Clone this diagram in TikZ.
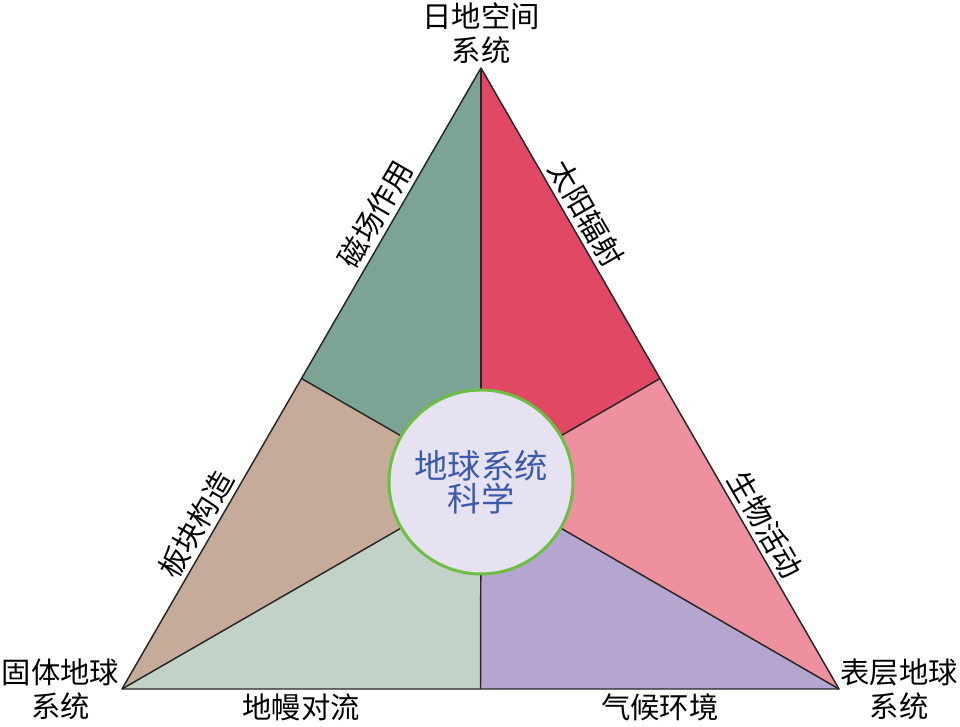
\documentclass[tikz,border=0pt]{standalone}
\usepackage{fontspec}
\setmainfont{Noto Sans CJK SC}
\usetikzlibrary{positioning, calc}

\definecolor{fieldgreen}{HTML}{7BA396}
\definecolor{sunred}{HTML}{E04863}
\definecolor{platetan}{HTML}{C6AB99}
\definecolor{mantlegray}{HTML}{C2D2C9}
\definecolor{climatepurple}{HTML}{B5A6D0}
\definecolor{lifepink}{HTML}{EE909E}
\definecolor{hubfill}{HTML}{E6E2F2}
\definecolor{hubring}{HTML}{6DBE45}
\definecolor{hubtext}{HTML}{3A5BAA}

\begin{document}
\begin{tikzpicture}[
    x=0.75pt, y=0.75pt,
    edge/.style={line width=1.1pt, black!85, line join=round},
    sidelabel/.style={font=\fontsize{22}{25.5}\selectfont, inner sep=3.5pt},
    cornerlabel/.style={font=\fontsize{22}{25.5}\selectfont, align=center, inner sep=0pt},
    hub/.style={circle, draw=hubring, line width=2.25pt, fill=hubfill, minimum size=138pt,
        align=center, text=hubtext, font=\fontsize{25}{25}\selectfont}
]
    \useasboundingbox (0, 0) rectangle (960, 727);

    % Corners, edge midpoints and centre
    \coordinate (top) at (481, 659);
    \coordinate (left) at (122, 38);
    \coordinate (right) at (839, 38);
    \coordinate (mid) at (481, 245);
    \coordinate (lmid) at ($(top)!0.5!(left)$);
    \coordinate (rmid) at ($(top)!0.5!(right)$);
    \coordinate (bmid) at ($(left)!0.5!(right)$);

    % Sectors
    \fill[fieldgreen] (top) -- (lmid) -- (mid) -- cycle;
    \fill[sunred] (top) -- (rmid) -- (mid) -- cycle;
    \fill[platetan] (lmid) -- (left) -- (mid) -- cycle;
    \fill[mantlegray] (left) -- (bmid) -- (mid) -- cycle;
    \fill[climatepurple] (bmid) -- (right) -- (mid) -- cycle;
    \fill[lifepink] (right) -- (rmid) -- (mid) -- cycle;

    % Outline and spokes
    \draw[edge] (top) -- (left) -- (right) -- cycle;
    \foreach \p in {top, left, right, lmid, rmid, bmid}
        \draw[edge] (mid) -- (\p);

    % Centre
    \node[hub] (core) at (mid) {地球系统\\科学};

    % Corner labels
    \node[cornerlabel, above=3pt of top] (solar) {日地空间\\系统};
    \node[cornerlabel, left=2pt of left] (solid) {固体地球\\系统};
    \node[cornerlabel, right=1pt of right] (surface) {表层地球\\系统};

    % Side labels
    \node[sidelabel, rotate=60, anchor=south] (magnet) at ($(top)!0.5!(lmid)$) {磁场作用};
    \node[sidelabel, rotate=60, anchor=south] (plate) at ($(lmid)!0.5!(left)$) {板块构造};
    \node[sidelabel, rotate=-60, anchor=south] (radiation) at ($(top)!0.5!(rmid)$) {太阳辐射};
    \node[sidelabel, rotate=-60, anchor=south] (life) at ($(rmid)!0.5!(right)$) {生物活动};
    \node[sidelabel, anchor=north] (mantle) at ($(left)!0.5!(bmid)$) {地幔对流};
    \node[sidelabel, anchor=north] (climate) at ($(bmid)!0.5!(right)$) {气候环境};

\end{tikzpicture}
\end{document}
